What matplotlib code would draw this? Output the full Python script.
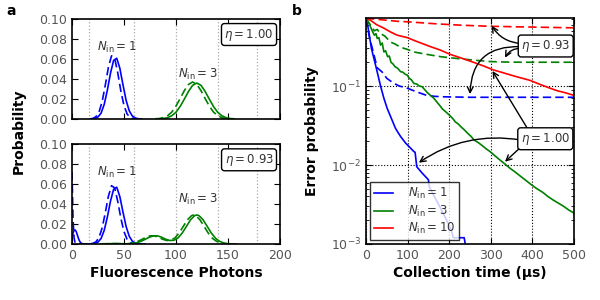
import matplotlib
matplotlib.use("Agg")
import matplotlib.pyplot as plt
from matplotlib.ticker import LogLocator, NullFormatter, FormatStrFormatter

# ---------------- data: panel a (photon-count distributions) ----------------
threshold_lines = [16, 60, 100, 140, 178]

top_n1_solid_x = [20, 22, 25, 28, 31, 34, 37, 40, 43, 46, 49, 52, 55, 58, 61, 64, 67]
top_n1_solid_y = [0, 0.0005, 0.002, 0.006, 0.0147, 0.0289, 0.0458, 0.0586, 0.0608, 0.0508,
                  0.0343, 0.0188, 0.0083, 0.003, 0.0009, 0.0002, 0]
top_n1_dash_x = [17, 20, 23, 26, 29, 32, 35, 38, 41, 44, 47, 50, 53, 56, 59, 62]
top_n1_dash_y = [0, 0.0006, 0.0023, 0.007, 0.0175, 0.0338, 0.0518, 0.0632, 0.0608, 0.0461,
                 0.0278, 0.0133, 0.005, 0.0015, 0.0004, 0.0001]
top_n3_solid_x = [84, 88, 92, 96, 100, 104, 108, 112, 116, 120, 124, 128, 132, 136, 140,
                  144, 148, 152, 156]
top_n3_solid_y = [0.0002, 0.0005, 0.0014, 0.0033, 0.0068, 0.0126, 0.0199, 0.0276, 0.0337,
                  0.036, 0.0337, 0.0276, 0.0199, 0.0126, 0.0068, 0.0033, 0.0014, 0.0005, 0.0002]
top_n3_dash_x = [80, 84, 88, 92, 96, 100, 104, 108, 112, 116, 120, 124, 128, 132, 136,
                 140, 144, 148, 152]
top_n3_dash_y = [0.0002, 0.0005, 0.0014, 0.0034, 0.007, 0.013, 0.0205, 0.0284, 0.0346,
                 0.037, 0.0346, 0.0284, 0.0205, 0.013, 0.007, 0.0034, 0.0014, 0.0005, 0.0002]

bot_n1_solid_x = [0, 1, 2, 3, 4, 5, 6, 7, 8, 9, 10, 14, 18, 22, 25, 28, 31, 34, 37, 40, 43,
                  46, 49, 52, 55, 58, 61, 64, 67, 70]
bot_n1_solid_y = [0.006, 0.011, 0.0138, 0.014, 0.0125, 0.0095, 0.0062, 0.0035, 0.0017,
                  0.0007, 0.0002, 0, 0, 0.0005, 0.0019, 0.0056, 0.0137, 0.027, 0.0428,
                  0.0547, 0.0568, 0.0474, 0.032, 0.0176, 0.0078, 0.0028, 0.0008, 0.0002, 0, 0]
bot_n1_dash_x = [0, 1, 2, 3, 5, 10, 16, 20, 23, 26, 29, 32, 35, 38, 41, 44, 47, 50, 53, 56,
                 59, 62, 65]
bot_n1_dash_y = [0.072, 0.025, 0.006, 0.001, 0, 0, 0, 0.0006, 0.0021, 0.0065, 0.0161,
                 0.0312, 0.0478, 0.0583, 0.0561, 0.0425, 0.0256, 0.0123, 0.0046, 0.0014,
                 0.0004, 0.0001, 0]
bot_n3_solid_x = [30, 36, 42, 48, 54, 58, 62, 66, 70, 74, 78, 82, 86, 90, 94, 98, 102, 106,
                  110, 114, 118, 120, 122, 126, 130, 134, 138, 142, 146, 150, 154, 158]
bot_n3_solid_y = [0, 0.0003, 0.0004, 0.0003, 0.0001, 0.0004, 0.0011, 0.0025, 0.0045,
                  0.0066, 0.0081, 0.0082, 0.0068, 0.0048, 0.0035, 0.0037, 0.0061, 0.011,
                  0.0176, 0.0242, 0.0284, 0.029, 0.0284, 0.0242, 0.0176, 0.0109, 0.0057,
                  0.0026, 0.001, 0.0003, 0.0001, 0]
bot_n3_dash_x = [27, 33, 39, 45, 51, 55, 59, 63, 67, 71, 75, 79, 83, 87, 91, 95, 99, 103,
                 107, 111, 115, 117, 119, 123, 127, 131, 135, 139, 143, 147, 151, 155]
bot_n3_dash_y = [0, 0.0003, 0.0004, 0.0003, 0.0001, 0.0004, 0.0011, 0.0025, 0.0045,
                 0.0066, 0.0081, 0.0082, 0.0068, 0.0048, 0.0035, 0.0037, 0.0061, 0.011,
                 0.0176, 0.0242, 0.0284, 0.029, 0.0284, 0.0242, 0.0176, 0.0109, 0.0057,
                 0.0026, 0.001, 0.0003, 0.0001, 0]

# ---------------- data: panel b (error probability vs collection time) ----------------
n1_eta100_t = [0, 5, 13, 23, 35, 43, 51, 60, 71, 83, 95, 105, 115, 118, 122, 135, 150, 152,
               170, 190, 205, 210, 236, 240]
n1_eta100_p = [0.72, 0.55, 0.30, 0.184, 0.10, 0.07, 0.052, 0.04, 0.029, 0.023, 0.019,
               0.0168, 0.0148, 0.0145, 0.0095, 0.0079, 0.0065, 0.0053, 0.0035, 0.0022,
               0.0015, 0.0012, 0.0012, 0.0009]
n1_eta093_t = [0, 8, 19, 27, 39, 50, 67, 80, 99, 120, 143, 165, 188, 250, 500]
n1_eta093_p = [0.72, 0.42, 0.25, 0.17, 0.15, 0.125, 0.108, 0.1, 0.094, 0.085, 0.077,
               0.074, 0.073, 0.072, 0.072]
n3_eta100_t = [0, 7, 15, 20, 24, 27, 31, 35, 39, 43, 47, 52, 56, 60, 65, 70, 76, 83, 88,
               95, 99, 104, 109, 115, 122, 128, 135, 141, 148, 155, 163, 170, 177, 184, 192,
               200, 208, 215, 222, 228, 236, 245, 252, 260, 270, 280, 289, 298, 309, 320,
               333, 346, 358, 370, 384, 398, 411, 425, 437, 450, 462, 475, 487, 498, 500]
n3_eta100_p = [0.72, 0.62, 0.5, 0.44, 0.46, 0.40, 0.41, 0.33, 0.35, 0.27, 0.28, 0.235,
               0.24, 0.20, 0.19, 0.175, 0.168, 0.152, 0.15, 0.14, 0.138, 0.125, 0.12, 0.108,
               0.106, 0.1, 0.098, 0.09, 0.082, 0.076, 0.07, 0.063, 0.057, 0.051, 0.047,
               0.043, 0.039, 0.035, 0.033, 0.0305, 0.028, 0.025, 0.0232, 0.0207, 0.0192,
               0.0175, 0.016, 0.0148, 0.0132, 0.0118, 0.0104, 0.0091, 0.0082, 0.0073,
               0.0064, 0.0056, 0.005, 0.0045, 0.004, 0.0036, 0.0033, 0.003, 0.0027,
               0.0025, 0.0024]
n3_eta093_t = [0, 11, 20, 27, 35, 45, 59, 70, 83, 100, 115, 135, 155, 180, 202, 230, 258,
               298, 340, 377, 420, 460, 500]
n3_eta093_p = [0.72, 0.59, 0.5, 0.52, 0.46, 0.43, 0.36, 0.34, 0.31, 0.29, 0.27, 0.258,
               0.247, 0.235, 0.228, 0.22, 0.213, 0.204, 0.201, 0.2, 0.2, 0.2, 0.2]
n10_eta100_t = [0, 11, 25, 43, 60, 75, 99, 120, 155, 178, 202, 230, 258, 282, 306, 330,
                360, 394, 420, 442, 460, 480, 500]
n10_eta100_p = [0.72, 0.68, 0.6, 0.54, 0.48, 0.44, 0.41, 0.37, 0.315, 0.286, 0.252, 0.225,
                0.2, 0.18, 0.16, 0.147, 0.132, 0.118, 0.104, 0.094, 0.087, 0.082, 0.076]
n10_eta093_t = [0, 50, 75, 100, 155, 175, 200, 226, 260, 300, 340, 378, 420, 460, 500]
n10_eta093_p = [0.72, 0.68, 0.66, 0.65, 0.62, 0.61, 0.6, 0.59, 0.58, 0.57, 0.565, 0.56,
                0.555, 0.55, 0.545]

legend_labels = [r"$N_{\rm in} = 1$", r"$N_{\rm in} = 3$", r"$N_{\rm in} = 10$"]

# ---------------- styling ----------------
plt.rcParams["font.family"] = ["DejaVu Sans"]
plt.rcParams["mathtext.fontset"] = "dejavusans"
TICK_C = "#555555"
TXT_C = "#333333"
BLUE, GREEN, RED = "#0000ff", "#008000", "#ff0000"
LW = 1.2
DASH = (5, 2.5)

fig = plt.figure(figsize=(6, 3), dpi=100)
ax_top = fig.add_axes([0.12, 0.6033, 0.3467, 0.3333])
ax_bot = fig.add_axes([0.12, 0.1867, 0.3467, 0.3333])
ax_b = fig.add_axes([0.61, 0.1867, 0.3467, 0.7523])


def style_axis(ax):
    ax.tick_params(which="both", direction="in", top=True, right=True,
                   labelsize=9, labelcolor=TICK_C, colors="black")
    ax.tick_params(which="major", length=4, width=0.8)
    ax.tick_params(which="minor", length=2, width=0.6)
    for s in ax.spines.values():
        s.set_linewidth(1.2)


for ax, eta, panel in [(ax_top, r"$\eta = 1.00$", "top"), (ax_bot, r"$\eta = 0.93$", "bot")]:
    for xv in threshold_lines:
        ax.axvline(xv, color="#aaaaaa", ls=":", lw=0.9, zorder=0)
    ax.set_xlim(0, 200)
    ax.set_ylim(0, 0.1)
    ax.set_xticks([0, 50, 100, 150, 200])
    ax.set_yticks([0, 0.02, 0.04, 0.06, 0.08, 0.10])
    ax.yaxis.set_major_formatter(FormatStrFormatter("%.2f"))
    style_axis(ax)
    ax.text(0.851, 0.845 if panel == "top" else 0.842, eta, transform=ax.transAxes,
            ha="center", va="center", fontsize=8.5, color=TXT_C,
            bbox=dict(boxstyle="round,pad=0.25", fc="white", ec="black", lw=1.0))
    ax.text(43, 0.072, r"$N_{\rm in} = 1$", ha="center", va="center", fontsize=8.5, color=TXT_C)
    ax.text(121, 0.045, r"$N_{\rm in} = 3$", ha="center", va="center", fontsize=8.5, color=TXT_C)

ax_top.plot(top_n1_solid_x, top_n1_solid_y, color=BLUE, lw=LW)
ax_top.plot(top_n1_dash_x, top_n1_dash_y, color=BLUE, lw=LW, dashes=DASH)
ax_top.plot(top_n3_solid_x, top_n3_solid_y, color=GREEN, lw=LW)
ax_top.plot(top_n3_dash_x, top_n3_dash_y, color=GREEN, lw=LW, dashes=DASH)
ax_top.tick_params(labelbottom=False)

ax_bot.plot(bot_n1_solid_x, bot_n1_solid_y, color=BLUE, lw=LW)
ax_bot.plot(bot_n1_dash_x, bot_n1_dash_y, color=BLUE, lw=LW, dashes=DASH)
ax_bot.plot(bot_n3_solid_x, bot_n3_solid_y, color=GREEN, lw=LW)
ax_bot.plot(bot_n3_dash_x, bot_n3_dash_y, color=GREEN, lw=LW, dashes=DASH)
ax_bot.set_xlabel("Fluorescence Photons", fontsize=10, fontweight="bold", labelpad=3)

fig.text(19 / 600, 1 - 131.5 / 300, "Probability", rotation=90, ha="center", va="center",
         fontsize=10, fontweight="bold")

# ---------------- panel b ----------------
ax_b.set_yscale("log")
ax_b.set_xlim(0, 500)
ax_b.set_ylim(1e-3, 0.72)
ax_b.set_xticks([0, 100, 200, 300, 400, 500])
ax_b.yaxis.set_major_locator(LogLocator(base=10, numticks=10))
ax_b.yaxis.set_minor_locator(LogLocator(base=10, subs=range(2, 10), numticks=10))
ax_b.yaxis.set_minor_formatter(NullFormatter())
style_axis(ax_b)
ax_b.grid(True, which="major", color="black", ls=":", lw=0.8)

h1, = ax_b.plot(n1_eta100_t, n1_eta100_p, color=BLUE, lw=LW)
ax_b.plot(n1_eta093_t, n1_eta093_p, color=BLUE, lw=LW, dashes=DASH)
h3, = ax_b.plot(n3_eta100_t, n3_eta100_p, color=GREEN, lw=LW)
ax_b.plot(n3_eta093_t, n3_eta093_p, color=GREEN, lw=LW, dashes=DASH)
h10, = ax_b.plot(n10_eta100_t, n10_eta100_p, color=RED, lw=LW)
ax_b.plot(n10_eta093_t, n10_eta093_p, color=RED, lw=LW, dashes=DASH)

leg = ax_b.legend([h1, h3, h10], legend_labels, loc="lower left", fontsize=8.5,
                  frameon=True, fancybox=False, handlelength=1.6, handletextpad=1.3,
                  borderaxespad=0.3, labelspacing=0.2, borderpad=0.35)
leg.get_frame().set_edgecolor("black")
leg.get_frame().set_linewidth(1.0)
for t in leg.get_texts():
    t.set_color(TXT_C)

ax_b.set_xlabel("Collection time (\u03bcs)", fontsize=10, fontweight="bold", labelpad=3)
fig.text(312 / 600, 1 - 131 / 300, "Error probability", rotation=90, ha="center",
         va="center", fontsize=10, fontweight="bold")

box = dict(boxstyle="round,pad=0.25", fc="white", ec="black", lw=1.0)
ax_b.text(432, 0.321, r"$\eta = 0.93$", ha="center", va="center", fontsize=8.5,
          color=TXT_C, bbox=box, zorder=6)
ax_b.text(431, 0.0215, r"$\eta = 1.00$", ha="center", va="center", fontsize=8.5,
          color=TXT_C, bbox=box, zorder=6)

arrow = dict(arrowstyle="->", color="black", lw=1.0, shrinkA=0, shrinkB=0)
# eta = 0.93 arrows
ax_b.annotate("", xy=(302, 0.58), xytext=(372, 0.345),
              arrowprops=dict(arrow, connectionstyle="arc3,rad=-0.25"), zorder=5)
ax_b.annotate("", xy=(334, 0.228), xytext=(373, 0.30),
              arrowprops=dict(arrow, connectionstyle="arc3,rad=0.3"), zorder=5)
ax_b.annotate("", xy=(250, 0.079), xytext=(372, 0.315),
              arrowprops=dict(arrow, connectionstyle="arc3,rad=0.5"), zorder=5)
# eta = 1.00 arrows
ax_b.annotate("", xy=(304, 0.155), xytext=(388, 0.029),
              arrowprops=dict(arrow, connectionstyle="arc3,rad=0"), zorder=5)
ax_b.annotate("", xy=(127, 0.0107), xytext=(373, 0.0207),
              arrowprops=dict(arrow, connectionstyle="arc3,rad=0.2"), zorder=5)
ax_b.annotate("", xy=(334, 0.011), xytext=(373, 0.017),
              arrowprops=dict(arrow, connectionstyle="arc3,rad=0"), zorder=5)

fig.text(11 / 600, 1 - 11 / 300, "a", ha="center", va="center", fontsize=10, fontweight="bold")
fig.text(297 / 600, 1 - 11 / 300, "b", ha="center", va="center", fontsize=10, fontweight="bold")

fig.savefig("out.png", dpi=100)
